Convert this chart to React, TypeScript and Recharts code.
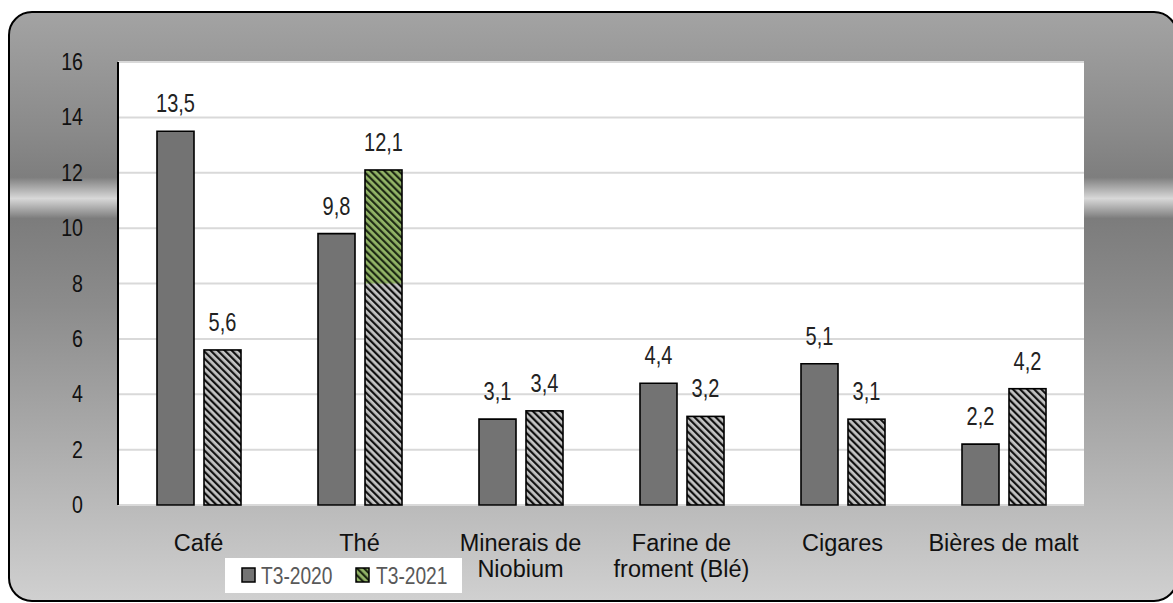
import React from "react";
import { Bar, BarChart, CartesianGrid, LabelList, XAxis, YAxis } from "recharts";

const categories = ["Café", "Thé", "Minerais de\nNiobium", "Farine de\nfroment (Blé)", "Cigares", "Bières de malt"];
const t3_2020 = [13.5, 9.8, 3.1, 4.4, 5.1, 2.2];
const t3_2021 = [5.6, 12.1, 3.4, 3.2, 3.1, 4.2];
// part of the bar drawn in green (from this value upwards)
const greenFrom = [null, 8, null, null, null, null];
const yTicks = [0, 2, 4, 6, 8, 10, 12, 14, 16];
const seriesNames = ["T3-2020", "T3-2021"];

const data = categories.map((name, i) => ({
  name,
  "T3-2020": t3_2020[i],
  "T3-2021": t3_2021[i],
  greenFrom: greenFrom[i],
}));

const ARIAL = "'Liberation Sans', Arial, sans-serif";
// no narrow font installed: squeeze Liberation Sans horizontally
const SQUEEZE = 0.8;

const fmt = (v: any) => Number(v).toFixed(1).replace(".", ",");

const NarrowText = ({ x, y, anchor, size, fill, children }: any) => (
  <text
    transform={`translate(${x},${y}) scale(${SQUEEZE},1)`}
    textAnchor={anchor}
    fontFamily={ARIAL}
    fontSize={size}
    fill={fill}
  >
    {children}
  </text>
);

const HatchBar = (props: any) => {
  const { x, y, width, height, payload } = props;
  if (!height) return null;
  const value = payload["T3-2021"];
  const split = payload.greenFrom;
  let greenH = 0;
  if (split != null && value > split) greenH = height - height * (split / value);
  return (
    <g>
      <rect x={x} y={y} width={width} height={height} fill="url(#hatchGray)" />
      {greenH > 0 && <rect x={x} y={y} width={width} height={greenH} fill="url(#hatchGreen)" />}
      <rect x={x} y={y} width={width} height={height} fill="none" stroke="#000" strokeWidth={1.6} />
    </g>
  );
};

const ValueLabel = (props: any) => {
  const { x, y, width, value } = props;
  return (
    <NarrowText x={x + width / 2} y={y - 19} anchor="middle" size={25} fill="#222">
      {fmt(value)}
    </NarrowText>
  );
};

const YTick = (props: any) => {
  const { x, y, payload } = props;
  return (
    <NarrowText x={x} y={y + 8} anchor="end" size={24.5} fill="#111">
      {payload.value}
    </NarrowText>
  );
};

const CatTick = (props: any) => {
  const { x, y, payload } = props;
  const lines = String(payload.value).split("\n");
  return (
    <text x={x} y={y} textAnchor="middle" fontFamily={ARIAL} fontSize={23.5} fill="#111">
      {lines.map((l, i) => (
        <tspan key={i} x={x} dy={i === 0 ? 46 : 26}>
          {l}
        </tspan>
      ))}
    </text>
  );
};

const LegendBox = () => (
  <svg width={237} height={35} style={{ position: "absolute", left: 225, top: 558, background: "#fff" }}>
    <rect x={17} y={10} width={13} height={14} fill="#737373" stroke="#000" strokeWidth={1.5} />
    <NarrowText x={36} y={26} anchor="start" size={24} fill="#595959">
      {seriesNames[0]}
    </NarrowText>
    <rect x={131} y={10} width={13} height={14} fill="url(#hatchGreen)" stroke="#000" strokeWidth={1.5} />
    <NarrowText x={151} y={26} anchor="start" size={24} fill="#595959">
      {seriesNames[1]}
    </NarrowText>
  </svg>
);

export default function App() {
  return (
    <div style={{ position: "absolute", left: 0, top: 0, width: 1173, height: 603, overflow: "hidden", background: "#fff" }}>
      <svg width={0} height={0} style={{ position: "absolute" }}>
        <defs>
          <pattern id="hatchGray" patternUnits="userSpaceOnUse" width={5} height={5} patternTransform="rotate(-45)">
            <rect width={5} height={5} fill="#c4c4c4" />
            <rect width={2.2} height={5} fill="#111" />
          </pattern>
          <pattern id="hatchGreen" patternUnits="userSpaceOnUse" width={5} height={5} patternTransform="rotate(-45)">
            <rect width={5} height={5} fill="#93b567" />
            <rect width={2.2} height={5} fill="#1e2a14" />
          </pattern>
        </defs>
      </svg>
      <div
        style={{
          position: "absolute",
          left: 8,
          top: 11,
          width: 1170,
          height: 591,
          boxSizing: "border-box",
          border: "2px solid #000",
          borderRadius: 24,
          background:
            "linear-gradient(to bottom, #a3a3a3 0%, #8a8a8a 20%, #7e7e7e 28%, #d8d8d8 31.6%, #7c7c7c 35%, #8c8c8c 50%, #d0d0d0 100%)",
        }}
      />
      <div style={{ position: "absolute", left: 0, top: 0 }}>
        <BarChart
          width={1173}
          height={603}
          data={data}
          margin={{ top: 62, right: 89, bottom: 38, left: 58 }}
          barGap={10}
          barSize={37}
        >
          <CartesianGrid vertical={false} fill="#fff" stroke="#d9d9d9" strokeWidth={2} />
          <XAxis
            dataKey="name"
            axisLine={false}
            tickLine={false}
            tickSize={0}
            tickMargin={0}
            height={60}
            interval={0}
            tick={<CatTick />}
          />
          <YAxis
            domain={[0, 16]}
            ticks={yTicks}
            width={60}
            axisLine={{ stroke: "#000", strokeWidth: 2 }}
            tickLine={false}
            tickMargin={29}
            tick={<YTick />}
          />
          <Bar dataKey="T3-2020" fill="#737373" stroke="#000" strokeWidth={1.6} isAnimationActive={false}>
            <LabelList dataKey="T3-2020" content={<ValueLabel />} />
          </Bar>
          <Bar dataKey="T3-2021" fill="url(#hatchGray)" shape={<HatchBar />} isAnimationActive={false}>
            <LabelList dataKey="T3-2021" content={<ValueLabel />} />
          </Bar>
        </BarChart>
      </div>
      <LegendBox />
    </div>
  );
}
